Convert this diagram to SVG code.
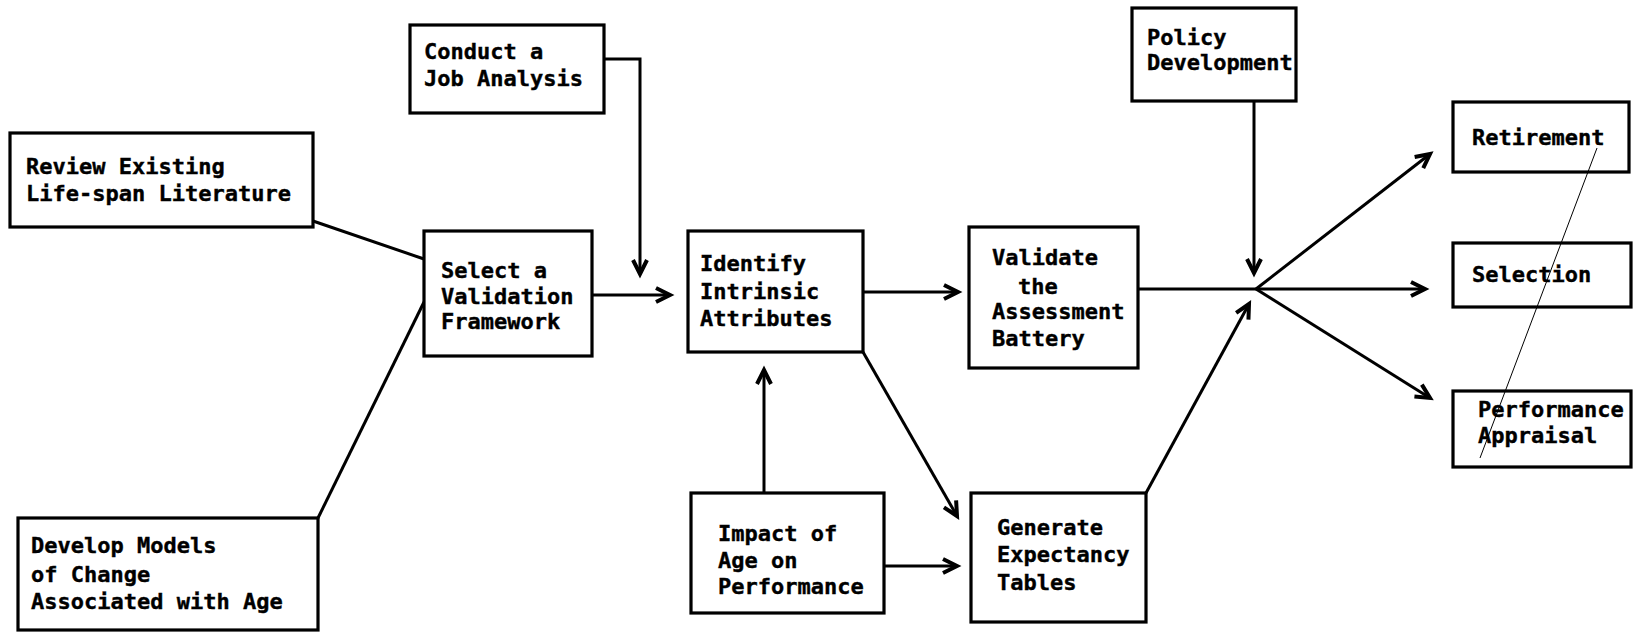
<svg xmlns="http://www.w3.org/2000/svg" width="1634" height="635" viewBox="0 0 1634 635">
<style>
.box{fill:#fff;stroke:#000;stroke-width:3.2}
.t{font-family:"DejaVu Sans Mono","Liberation Mono",monospace;font-weight:bold;font-size:22px;fill:#000;stroke:#000;stroke-width:0.4}
.c{fill:none;stroke:#000;stroke-width:3}
.a{fill:none;stroke:#000;stroke-width:3;marker-end:url(#ah)}
</style>
<defs>
<marker id="ah" markerUnits="userSpaceOnUse" markerWidth="22" markerHeight="22" refX="17" refY="10" orient="auto">
<path d="M3,3 L17,10 L3,17" fill="none" stroke="#000" stroke-width="4"/>
</marker>
</defs>
<rect width="1634" height="635" fill="#fff"/>
<g id="connectors">
<path class="c" d="M313,221 L424,259"/>
<path class="c" d="M318,518 L424,302"/>
<path class="a" d="M604,59 L640,59 L640,274"/>
<path class="a" d="M592,295 L670,295"/>
<path class="a" d="M863,292 L958,292"/>
<path class="a" d="M863,352 L957,516"/>
<path class="a" d="M764,493 L764,370"/>
<path class="a" d="M884,566 L957,566"/>
<path class="c" d="M1138,289 L1256,289"/>
<path class="a" d="M1254,101 L1254,273"/>
<path class="a" d="M1146,493 L1249,304"/>
<path class="a" d="M1256,289 L1430,154"/>
<path class="a" d="M1256,289 L1425,289"/>
<path class="a" d="M1256,289 L1430,398"/>
</g>
<g id="conduct"><rect class="box" x="410" y="25" width="194" height="88"/><text class="t" x="424" y="59">Conduct a</text><text class="t" x="424" y="86">Job Analysis</text></g>
<g id="review"><rect class="box" x="10" y="133" width="303" height="94"/><text class="t" x="26" y="174">Review Existing</text><text class="t" x="26" y="201">Life-span Literature</text></g>
<g id="select"><rect class="box" x="424" y="231" width="168" height="125"/><text class="t" x="441" y="278">Select a</text><text class="t" x="441" y="304">Validation</text><text class="t" x="441" y="329">Framework</text></g>
<g id="develop"><rect class="box" x="18" y="518" width="300" height="112"/><text class="t" x="31" y="553">Develop Models</text><text class="t" x="31" y="582">of Change</text><text class="t" x="31" y="609">Associated with Age</text></g>
<g id="identify"><rect class="box" x="688" y="231" width="175" height="121"/><text class="t" x="700" y="271">Identify</text><text class="t" x="700" y="299">Intrinsic</text><text class="t" x="700" y="326">Attributes</text></g>
<g id="validate"><rect class="box" x="969" y="227" width="169" height="141"/><text class="t" x="992" y="265">Validate</text><text class="t" x="1018" y="294">the</text><text class="t" x="992" y="319">Assessment</text><text class="t" x="992" y="346">Battery</text></g>
<g id="impact"><rect class="box" x="691" y="493" width="193" height="120"/><text class="t" x="718" y="541">Impact of</text><text class="t" x="718" y="568">Age on</text><text class="t" x="718" y="594">Performance</text></g>
<g id="generate"><rect class="box" x="971" y="493" width="175" height="129"/><text class="t" x="997" y="535">Generate</text><text class="t" x="997" y="562">Expectancy</text><text class="t" x="997" y="590">Tables</text></g>
<g id="policy"><rect class="box" x="1132" y="8" width="164" height="93"/><text class="t" x="1147" y="45">Policy</text><text class="t" x="1147" y="70">Development</text></g>
<g id="retirement"><rect class="box" x="1453" y="102" width="176" height="70"/><text class="t" x="1472" y="145">Retirement</text></g>
<g id="selection"><rect class="box" x="1453" y="243" width="178" height="64"/><text class="t" x="1472" y="282">Selection</text></g>
<g id="appraisal"><rect class="box" x="1453" y="391" width="178" height="76"/><text class="t" x="1478" y="417">Performance</text><text class="t" x="1478" y="443">Appraisal</text></g>
<path d="M1597,148 L1480,458" fill="none" stroke="#000" stroke-width="1"/>
</svg>
